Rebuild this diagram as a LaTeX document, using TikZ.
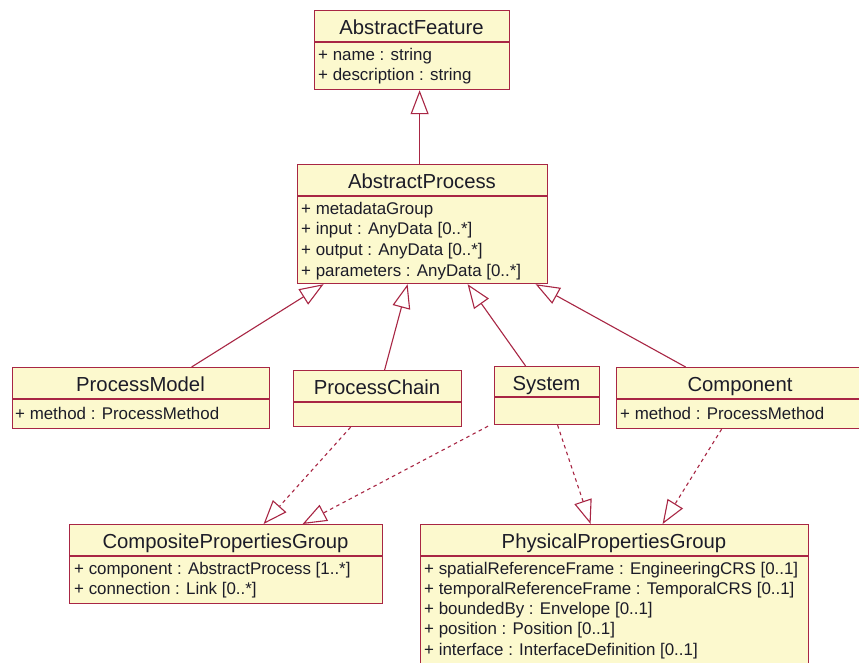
\documentclass[tikz,border=0pt]{standalone}
\usepackage{fontspec}
\setmainfont{Liberation Sans}
\usetikzlibrary{arrows.meta,calc}
\definecolor{boxfill}{RGB}{252,249,206}
\definecolor{boxline}{RGB}{168,38,68}
\definecolor{txt}{RGB}{28,28,40}
\tikzset{
  classbox/.style={draw=boxline, fill=boxfill, line width=1.2pt, inner sep=0pt, anchor=north west},
  divider/.style={draw=boxline, line width=1.2pt},
  ctitle/.style={font=\fontsize{20.3}{23}\selectfont, text=txt, inner sep=0pt, text height=14.6pt, text depth=0pt},
  cattr/.style={font=\fontsize{16.9}{19}\selectfont, text=txt, inner sep=0pt, anchor=west, text height=12.1pt, text depth=0pt},
  gen/.style={draw=boxline, line width=1.1pt, -{Triangle[open, length=24pt, width=18pt, line width=1.1pt]}},
  real/.style={gen, dash pattern=on 3.5pt off 3.5pt}
}
\begin{document}
\begin{tikzpicture}[x=1pt,y=-1pt]
\useasboundingbox (0,0) rectangle (859,662);
\fill[white] (0,0) rectangle (859,662);
\clip (0,0) rectangle (859,662);

% AbstractFeature
\node[classbox, minimum width=195pt, minimum height=79pt] (af) at (314,10) {};
\draw[divider] (af.west |- 0,42) -- (af.east |- 0,42);
\node[ctitle] (aft) at (411.5,27) {AbstractFeature};
\node[cattr] (afa1) at (318,54.5) {+ name : string};
\node[cattr] (afa2) at (318,74.5) {+ description : string};

% AbstractProcess
\node[classbox, minimum width=250pt, minimum height=119pt] (ap) at (297,164) {};
\draw[divider] (ap.west |- 0,196) -- (ap.east |- 0,196);
\node[ctitle] (apt) at (422,181) {AbstractProcess};
\node[cattr] (apa1) at (301,208) {+ metadataGroup};
\node[cattr] (apa2) at (301,228.7) {+ input : AnyData [0..*]};
\node[cattr] (apa3) at (301,249.4) {+ output : AnyData [0..*]};
\node[cattr] (apa4) at (301,270) {+ parameters : AnyData [0..*]};

% ProcessModel
\node[classbox, minimum width=257pt, minimum height=61pt] (pm) at (12,367) {};
\draw[divider] (pm.west |- 0,399) -- (pm.east |- 0,399);
\node[ctitle] (pmt) at (140.5,384) {ProcessModel};
\node[cattr] (pma1) at (15,413) {+ method : ProcessMethod};

% ProcessChain
\node[classbox, minimum width=168pt, minimum height=56pt] (pc) at (293,370) {};
\draw[divider] (pc.west |- 0,402) -- (pc.east |- 0,402);
\node[ctitle] (pct) at (377,387) {ProcessChain};

% System
\node[classbox, minimum width=105pt, minimum height=58pt] (sys) at (494,366) {};
\draw[divider] (sys.west |- 0,397) -- (sys.east |- 0,397);
\node[ctitle] (syst) at (546.5,383.5) {System};

% Component
\node[classbox, minimum width=248pt, minimum height=61pt] (comp) at (616,367) {};
\draw[divider] (comp.west |- 0,399) -- (comp.east |- 0,399);
\node[ctitle] (compt) at (740,384) {Component};
\node[cattr] (compa1) at (620,413) {+ method : ProcessMethod};

% CompositePropertiesGroup
\node[classbox, minimum width=313pt, minimum height=79pt] (cpg) at (69,524) {};
\draw[divider] (cpg.west |- 0,556) -- (cpg.east |- 0,556);
\node[ctitle] (cpgt) at (225.5,541.5) {CompositePropertiesGroup};
\node[cattr] (cpga1) at (74,568) {+ component : AbstractProcess [1..*]};
\node[cattr] (cpga2) at (74,588) {+ connection : Link [0..*]};

% PhysicalPropertiesGroup
\node[classbox, minimum width=388pt, minimum height=150pt] (ppg) at (420,524) {};
\draw[divider] (ppg.west |- 0,556) -- (ppg.east |- 0,556);
\node[ctitle] (ppgt) at (614,541.5) {PhysicalPropertiesGroup};
\node[cattr] (ppga1) at (424,568) {+ spatialReferenceFrame : EngineeringCRS [0..1]};
\node[cattr] (ppga2) at (424,588.3) {+ temporalReferenceFrame : TemporalCRS [0..1]};
\node[cattr] (ppga3) at (424,608.6) {+ boundedBy : Envelope [0..1]};
\node[cattr] (ppga4) at (424,628.9) {+ position : Position [0..1]};
\node[cattr] (ppga5) at (424,649.2) {+ interface : InterfaceDefinition [0..1]};

% Generalizations
\draw[gen] ([xshift=-3pt]ap.north) -- ([xshift=7.5pt]af.south);
\draw[gen] ([xshift=50.5pt]pm.north) -- ([xshift=-99pt]ap.south);
\draw[gen] ([xshift=7pt]pc.north) -- ([xshift=-15pt]ap.south);
\draw[gen] ([xshift=-21.5pt]sys.north) -- ([xshift=45pt]ap.south);
\draw[gen] ([xshift=-55pt]comp.north) -- ([xshift=113pt]ap.south);

% Realizations
\draw[real] ([xshift=-27pt]pc.south) -- ([xshift=37.5pt]cpg.north);
\draw[real] ([xshift=-6pt,yshift=-1pt]sys.south west) -- ([xshift=76.5pt]cpg.north);
\draw[real] ([xshift=10.5pt]sys.south) -- ([xshift=-24pt]ppg.north);
\draw[real] ([xshift=-19pt]comp.south) -- ([xshift=48pt]ppg.north);
\end{tikzpicture}
\end{document}
